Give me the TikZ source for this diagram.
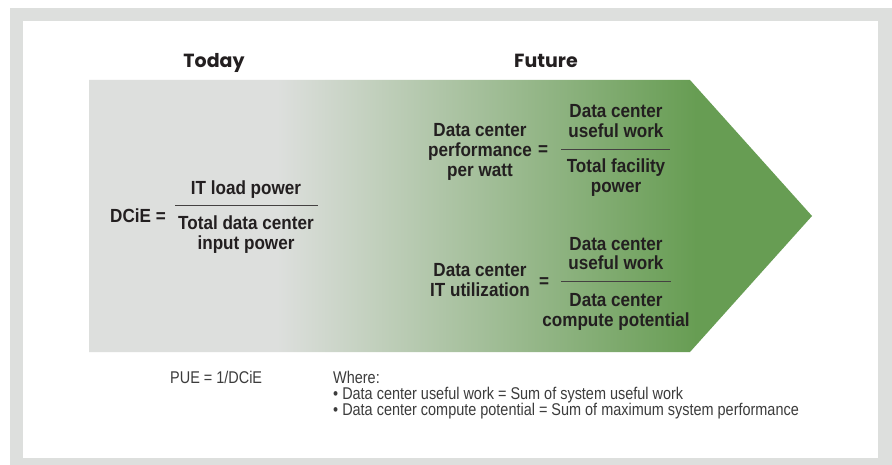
\documentclass[tikz,border=0pt]{standalone}
\usepackage{fontspec}
\newfontfamily\headfont{Poppins}
\newfontfamily\formulafont{Liberation Sans}[FakeStretch=0.9]
\newfontfamily\notefont{Liberation Sans}[FakeStretch=0.85]

\definecolor{framegrey}{RGB}{221,223,221}
\definecolor{todaygrey}{RGB}{221,223,221}
\definecolor{futuregreen}{RGB}{103,157,83}
\definecolor{inkblack}{RGB}{35,31,32}
\definecolor{notegrey}{RGB}{60,60,60}

% grey on the left, green towards the tip
\pgfdeclarehorizontalshading{todayfuture}{100bp}{color(0bp)=(todaygrey); color(38bp)=(todaygrey); color(67bp)=(futuregreen); color(100bp)=(futuregreen)}

\begin{document}
\begin{tikzpicture}[x=1pt,y=-1pt,
    heading/.style={font=\headfont\bfseries\fontsize{19}{22}\selectfont,text=inkblack,inner sep=0pt,anchor=base},
    formula/.style={font=\formulafont\bfseries\fontsize{19}{20}\selectfont,text=inkblack,align=center,inner sep=0pt,anchor=base},
    fracbar/.style={draw=inkblack!85,line width=1pt},
    note/.style={font=\notefont\fontsize{17}{16}\selectfont,text=notegrey,align=left,inner sep=0pt,anchor=base west}]
  \useasboundingbox (0,0) rectangle (892,465);
  \fill[white] (0,0) rectangle (892,465);

  % frame
  \fill[framegrey] (10,8) rectangle (892,465);
  \fill[white] (23,21) rectangle (878,458);

  % arrow
  \shade[shading=todayfuture] (89,80) -- (690,80) -- (812,216) -- (690,352) -- (89,352) -- cycle;

  \node[heading] (today) at (214,68) {Today};
  \node[heading] (future) at (546,68) {Future};

  % DCiE
  \node[formula,anchor=base east] (dcie) at (166,223) {DCiE =};
  \node[formula] (dcieNum) at (246,195) {IT load power};
  \node[formula] (dcieDen) at (246,250) {Total data center\\input power};
  \coordinate (dcieBarW) at (175,206);
  \coordinate (dcieBarE) at (318,206);
  \draw[fracbar] (dcieBarW) -- (dcieBarE);

  % performance per watt
  \node[formula] (perfLeft) at (480,177) {Data center\\performance\\per watt};
  \node[formula,anchor=center] (perfEq) at (543,151) {=};
  \node[formula] (perfNum) at (616,138) {Data center\\useful work};
  \node[formula] (perfDen) at (616,193) {Total facility\\power};
  \coordinate (perfBarW) at (561,150);
  \coordinate (perfBarE) at (670,150);
  \draw[fracbar] (perfBarW) -- (perfBarE);

  % IT utilization
  \node[formula] (utilLeft) at (480,296) {Data center\\IT utilization};
  \node[formula,anchor=center] (utilEq) at (544,283) {=};
  \node[formula] (utilNum) at (616,270) {Data center\\useful work};
  \node[formula] (utilDen) at (616,326) {Data center\\compute potential};
  \coordinate (utilBarW) at (561,282);
  \coordinate (utilBarE) at (671,282);
  \draw[fracbar] (utilBarW) -- (utilBarE);

  % notes
  \node[note] (pue) at (170,383) {PUE = 1/DCiE};
  \node[note] (notes) at (333,415) {Where:\\%
    \textbullet\ Data center useful work = Sum of system useful work\\%
    \textbullet\ Data center compute potential = Sum of maximum system performance};
\end{tikzpicture}
\end{document}
